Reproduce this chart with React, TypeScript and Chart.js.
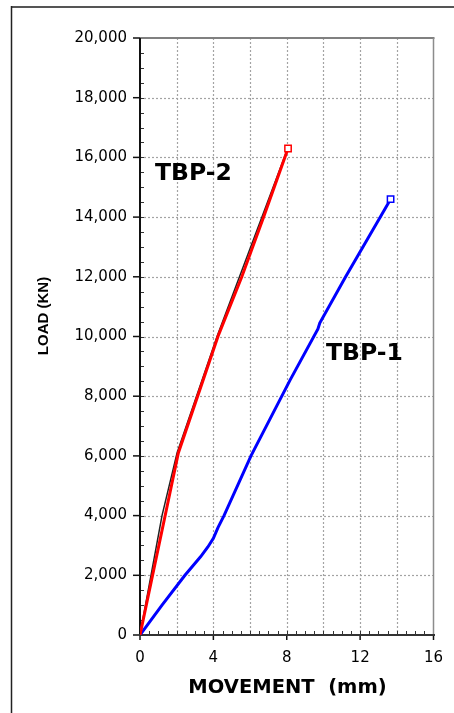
import React, { useEffect, useRef } from "react";
import { Chart, registerables } from "chart.js";

Chart.register(...registerables);

// ---- data (movement in mm, load in kN) ----
const movementTBP2 = [0, 2.09, 4.25, 5.55, 6.74, 8.07];
const loadTBP2 = [0, 6100, 10000, 12000, 14000, 16300];

const movementShadow = [0, 1.2, 2.02, 4.2, 8.05];
const loadShadow = [0, 4000, 6100, 10000, 16300];

const movementTBP1 = [0, 1.2, 2.45, 3.3, 3.7, 4.0, 4.25, 4.58, 6.05, 8.18, 9.7, 9.8, 11.21, 13.1, 13.66];
const loadTBP1 = [0, 1000, 2000, 2620, 2950, 3240, 3600, 4000, 6000, 8540, 10250, 10450, 12000, 14000, 14600];

const seriesNames = ["TBP-2", "TBP-1"];
const seriesLabelX = [0.82, 10.14];
const seriesLabelY = [15243, 9213];

const xTickLabels = [0, 4, 8, 12, 16];
const yTickLabels = [0, 2000, 4000, 6000, 8000, 10000, 12000, 14000, 16000, 18000, 20000];

const xTitle = "MOVEMENT  (mm)";
const yTitle = "LOAD (KN)";

const W = 454;
const H = 713;

function toPoints(xs: number[], ys: number[]) {
  return xs.map((x, i) => ({ x, y: ys[i] }));
}

function endRadius(n: number, r: number) {
  return Array.from({ length: n }, (_, i) => (i === n - 1 ? r : 0));
}

const decorPlugin = {
  id: "decor",
  beforeDraw(chart: any) {
    const ctx = chart.ctx;
    ctx.save();
    ctx.fillStyle = "#ffffff";
    ctx.fillRect(0, 0, W, H);
    // outer frame (cropped)
    ctx.strokeStyle = "#555555";
    ctx.lineWidth = 2;
    ctx.beginPath();
    ctx.moveTo(11, 7);
    ctx.lineTo(W, 7);
    ctx.stroke();
    ctx.strokeStyle = "#222222";
    ctx.lineWidth = 1.5;
    ctx.beginPath();
    ctx.moveTo(11.5, 6);
    ctx.lineTo(11.5, H);
    ctx.stroke();
    ctx.restore();
  },
  beforeDatasetsDraw(chart: any) {
    const ctx = chart.ctx;
    const xs = chart.scales.x;
    const ys = chart.scales.y;
    const { left, right, top, bottom } = chart.chartArea;
    ctx.save();
    // dotted grid
    ctx.strokeStyle = "#a3a3a3";
    ctx.lineWidth = 1.2;
    ctx.setLineDash([2, 2]);
    for (let v = 2; v < 16; v += 2) {
      const px = Math.round(xs.getPixelForValue(v)) + 0.5;
      ctx.beginPath();
      ctx.moveTo(px, top);
      ctx.lineTo(px, bottom);
      ctx.stroke();
    }
    for (let v = 2000; v < 20000; v += 2000) {
      const py = Math.round(ys.getPixelForValue(v)) + 0.5;
      ctx.beginPath();
      ctx.moveTo(left, py);
      ctx.lineTo(right, py);
      ctx.stroke();
    }
    ctx.setLineDash([]);
    // plot border top / right
    ctx.strokeStyle = "#808080";
    ctx.lineWidth = 2;
    ctx.beginPath();
    ctx.moveTo(left, top);
    ctx.lineTo(right + 1, top);
    ctx.stroke();
    ctx.lineWidth = 1.5;
    ctx.strokeStyle = "#8c8c8c";
    ctx.beginPath();
    ctx.moveTo(right, top);
    ctx.lineTo(right, bottom);
    ctx.stroke();
    // minor ticks
    ctx.strokeStyle = "#333333";
    ctx.lineWidth = 1;
    for (let v = 0.5; v < 16; v += 0.5) {
      const px = Math.round(xs.getPixelForValue(v)) + 0.5;
      ctx.beginPath();
      ctx.moveTo(px, bottom);
      ctx.lineTo(px, bottom - 4);
      ctx.stroke();
    }
    for (let v = 500; v < 20000; v += 500) {
      const py = Math.round(ys.getPixelForValue(v)) + 0.5;
      ctx.beginPath();
      ctx.moveTo(left - 1, py);
      ctx.lineTo(left + 4, py);
      ctx.stroke();
    }
    // major ticks
    ctx.strokeStyle = "#111111";
    ctx.lineWidth = 1.5;
    for (const v of xTickLabels) {
      const px = xs.getPixelForValue(v);
      ctx.beginPath();
      ctx.moveTo(px, bottom);
      ctx.lineTo(px, bottom + 5);
      ctx.stroke();
    }
    for (const v of yTickLabels) {
      const py = ys.getPixelForValue(v);
      ctx.beginPath();
      ctx.moveTo(left - 7, py);
      ctx.lineTo(left, py);
      ctx.stroke();
    }
    // axis lines
    ctx.strokeStyle = "#111111";
    ctx.lineWidth = 2;
    ctx.beginPath();
    ctx.moveTo(left, top);
    ctx.lineTo(left, bottom + 1);
    ctx.stroke();
    ctx.strokeStyle = "#333333";
    ctx.beginPath();
    ctx.moveTo(left - 1, bottom);
    ctx.lineTo(right + 1.5, bottom);
    ctx.stroke();
    ctx.restore();
  },
  afterDraw(chart: any) {
    const ctx = chart.ctx;
    const xs = chart.scales.x;
    const ys = chart.scales.y;
    ctx.save();
    ctx.fillStyle = "#000000";
    // series labels
    ctx.font = 'bold 23.5px "DejaVu Sans", sans-serif';
    ctx.textAlign = "left";
    ctx.textBaseline = "alphabetic";
    seriesNames.forEach((name, i) => {
      ctx.fillText(name, xs.getPixelForValue(seriesLabelX[i]), ys.getPixelForValue(seriesLabelY[i]));
    });
    // x title
    ctx.font = 'bold 19.5px "DejaVu Sans", sans-serif';
    ctx.textAlign = "center";
    ctx.fillText(xTitle, 287.5, 693.3);
    // y title
    ctx.font = 'bold 15px "Liberation Sans", Arial, sans-serif';
    ctx.translate(47.5, 316);
    ctx.rotate(-Math.PI / 2);
    ctx.textAlign = "center";
    ctx.fillText(yTitle, 0, 0);
    ctx.restore();
  },
};

export default function App() {
  const ref = useRef<HTMLCanvasElement | null>(null);

  useEffect(() => {
    if (!ref.current) return;
    const chart = new Chart(ref.current, {
      type: "line",
      data: {
        datasets: [
          {
            label: "TBP-2",
            data: toPoints(movementTBP2, loadTBP2),
            borderColor: "#ff0000",
            borderWidth: 3,
            pointStyle: "rect",
            pointRadius: endRadius(movementTBP2.length, 4.5),
            pointBorderColor: "#ff0000",
            pointBackgroundColor: "#ffffff",
            pointBorderWidth: 1.5,
            tension: 0,
          },
          {
            label: "shadow",
            data: toPoints(movementShadow, loadShadow),
            borderColor: "#222222",
            borderWidth: 1.5,
            pointRadius: 0,
            tension: 0,
          },
          {
            label: "TBP-1",
            data: toPoints(movementTBP1, loadTBP1),
            borderColor: "#0000ff",
            borderWidth: 3,
            pointStyle: "rect",
            pointRadius: endRadius(movementTBP1.length, 4.5),
            pointBorderColor: "#0000ff",
            pointBackgroundColor: "#ffffff",
            pointBorderWidth: 1.5,
            tension: 0,
          },
        ],
      },
      options: {
        responsive: false,
        animation: false,
        events: [],
        layout: { padding: { left: 0, right: 20.5, top: 38, bottom: 0 } },
        plugins: {
          legend: { display: false },
          tooltip: { enabled: false },
        },
        scales: {
          x: {
            type: "linear",
            min: 0,
            max: 16,
            afterFit: (s: any) => {
              s.height = 78;
              s.paddingLeft = 0;
              s.paddingRight = 0;
            },
            grid: { display: false, drawTicks: false },
            border: { display: false },
            ticks: {
              stepSize: 4,
              padding: 14,
              color: "#000000",
              font: { family: '"DejaVu Sans", sans-serif', size: 15 },
              maxRotation: 0,
            },
          },
          y: {
            type: "linear",
            min: 0,
            max: 20000,
            afterFit: (s: any) => {
              s.width = 140;
              s.paddingTop = 0;
              s.paddingBottom = 0;
            },
            grid: { display: false, drawTicks: false },
            border: { display: false },
            ticks: {
              stepSize: 2000,
              padding: 13,
              color: "#000000",
              font: { family: '"DejaVu Sans", sans-serif', size: 15 },
              callback: (v: any) => Number(v).toLocaleString("en-US"),
            },
          },
        },
      },
      plugins: [decorPlugin],
    });
    return () => chart.destroy();
  }, []);

  return (
    <div style={{ position: "absolute", left: 0, top: 0, width: W, height: H, background: "#fff" }}>
      <canvas ref={ref} width={W} height={H} style={{ width: W, height: H, display: "block" }} />
    </div>
  );
}
